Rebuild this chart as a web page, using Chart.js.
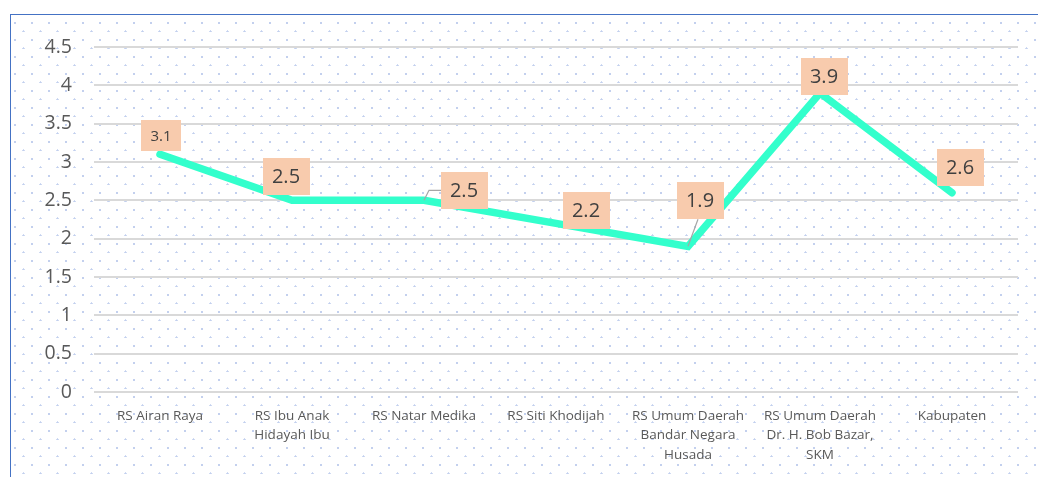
<!DOCTYPE html>
<html>
<head>
<meta charset="utf-8">
<script src="https://cdn.jsdelivr.net/npm/chart.js@4.4.1/dist/chart.umd.min.js"></script>
<style>
  html, body { margin: 0; padding: 0; background: #fff; width: 1038px; height: 477px; overflow: hidden; }
  #frame {
    position: absolute; left: 10px; top: 14px; width: 1040px; height: 470px;
    border-left: 1.5px solid #4472c4; border-top: 1.5px solid #4472c4;
    background-image:
      radial-gradient(circle at 4px 8px, #c3d0ee 0.9px, rgba(255,255,255,0) 1.4px),
      radial-gradient(circle at 12.5px 16.5px, #c3d0ee 0.9px, rgba(255,255,255,0) 1.4px);
    background-size: 17px 17px, 17px 17px;
    background-position: 0 0, 0 0;
  }
  #wrap { position: absolute; left: 0; top: 0; width: 1038px; height: 477px; }
</style>
</head>
<body>
<div id="frame"></div>
<div id="wrap"><canvas id="c" width="1038" height="477"></canvas></div>
<script>
const categories = [
  "RS Airan Raya",
  ["RS Ibu Anak", "Hidayah Ibu"],
  "RS Natar Medika",
  "RS Siti Khodijah",
  ["RS Umum Daerah", "Bandar Negara", "Husada"],
  ["RS Umum Daerah", "Dr. H. Bob Bazar,", "SKM"],
  "Kabupaten"
];
const values = [3.1, 2.5, 2.5, 2.2, 1.9, 3.9, 2.6];
const valueLabels = ["3.1", "2.5", "2.5", "2.2", "1.9", "3.9", "2.6"];
const yTicks = [0, 0.5, 1, 1.5, 2, 2.5, 3, 3.5, 4, 4.5];

// label box placement relative to each point: dx, dy (box centre), w, h, font size, leader line
const labelLayout = [
  { dx: 1, dy: -19, w: 40, h: 31, fs: 15, leader: null },
  { dx: -6, dy: -24, w: 47, h: 37, fs: 20, leader: null },
  { dx: 40, dy: -10, w: 47, h: 37, fs: 20, leader: [[0, 0], [5, -10], [17, -10]] },
  { dx: 30, dy: -13, w: 47, h: 37, fs: 20, leader: null },
  { dx: 12, dy: -46, w: 47, h: 37, fs: 20, leader: [[0, 0], [10, -27]] },
  { dx: 4, dy: -17, w: 47, h: 37, fs: 20, leader: null },
  { dx: 8, dy: -25, w: 47, h: 37, fs: 20, leader: null }
];

const FONT = '"Open Sans", "Liberation Sans", sans-serif';

const boxLabels = {
  id: 'boxLabels',
  afterDatasetsDraw(chart) {
    const ctx = chart.ctx;
    const meta = chart.getDatasetMeta(0);
    meta.data.forEach((pt, i) => {
      const L = labelLayout[i];
      const x = pt.x, y = pt.y;
      ctx.save();
      if (L.leader) {
        ctx.strokeStyle = '#a6a6a6';
        ctx.lineWidth = 1.2;
        ctx.beginPath();
        L.leader.forEach((p, k) => {
          if (k === 0) ctx.moveTo(x + p[0], y + p[1]); else ctx.lineTo(x + p[0], y + p[1]);
        });
        ctx.stroke();
      }
      const cx = x + L.dx, cy = y + L.dy;
      ctx.fillStyle = '#f8cbad';
      ctx.fillRect(Math.round(cx - L.w / 2), Math.round(cy - L.h / 2), L.w, L.h);
      ctx.fillStyle = '#404040';
      ctx.font = L.fs + 'px ' + FONT;
      ctx.textAlign = 'center';
      ctx.textBaseline = 'middle';
      ctx.fillText(valueLabels[i], cx, cy + 1);
      ctx.restore();
    });
  }
};

new Chart(document.getElementById('c'), {
  type: 'line',
  data: {
    labels: categories,
    datasets: [{
      data: values,
      borderColor: '#33ffcc',
      borderWidth: 7.5,
      borderCapStyle: 'round',
      borderJoinStyle: 'miter',
      pointRadius: 0,
      tension: 0,
      fill: false
    }]
  },
  options: {
    responsive: false,
    animation: false,
    devicePixelRatio: 1,
    layout: { padding: { top: 47, right: 20, left: 0, bottom: 0 } },
    plugins: { legend: { display: false }, tooltip: { enabled: false } },
    scales: {
      x: {
        offset: true,
        grid: { display: false },
        border: { display: false },
        ticks: {
          color: '#595959',
          font: { family: FONT, size: 13.5, lineHeight: 1.45 },
          maxRotation: 0, minRotation: 0, autoSkip: false, padding: 6
        },
        afterFit(s) { s.height = 85; }
      },
      y: {
        min: 0, max: 4.5,
        afterBuildTicks(s) { s.ticks = yTicks.map(v => ({ value: v })); },
        grid: { color: '#d9d9d9', lineWidth: 2, drawTicks: false },
        border: { display: false },
        ticks: {
          color: '#595959',
          font: { family: FONT, size: 19.5 },
          padding: 22,
          callback: v => String(v)
        },
        afterFit(s) { s.width = 94; }
      }
    }
  },
  plugins: [boxLabels]
});
</script>
</body>
</html>
